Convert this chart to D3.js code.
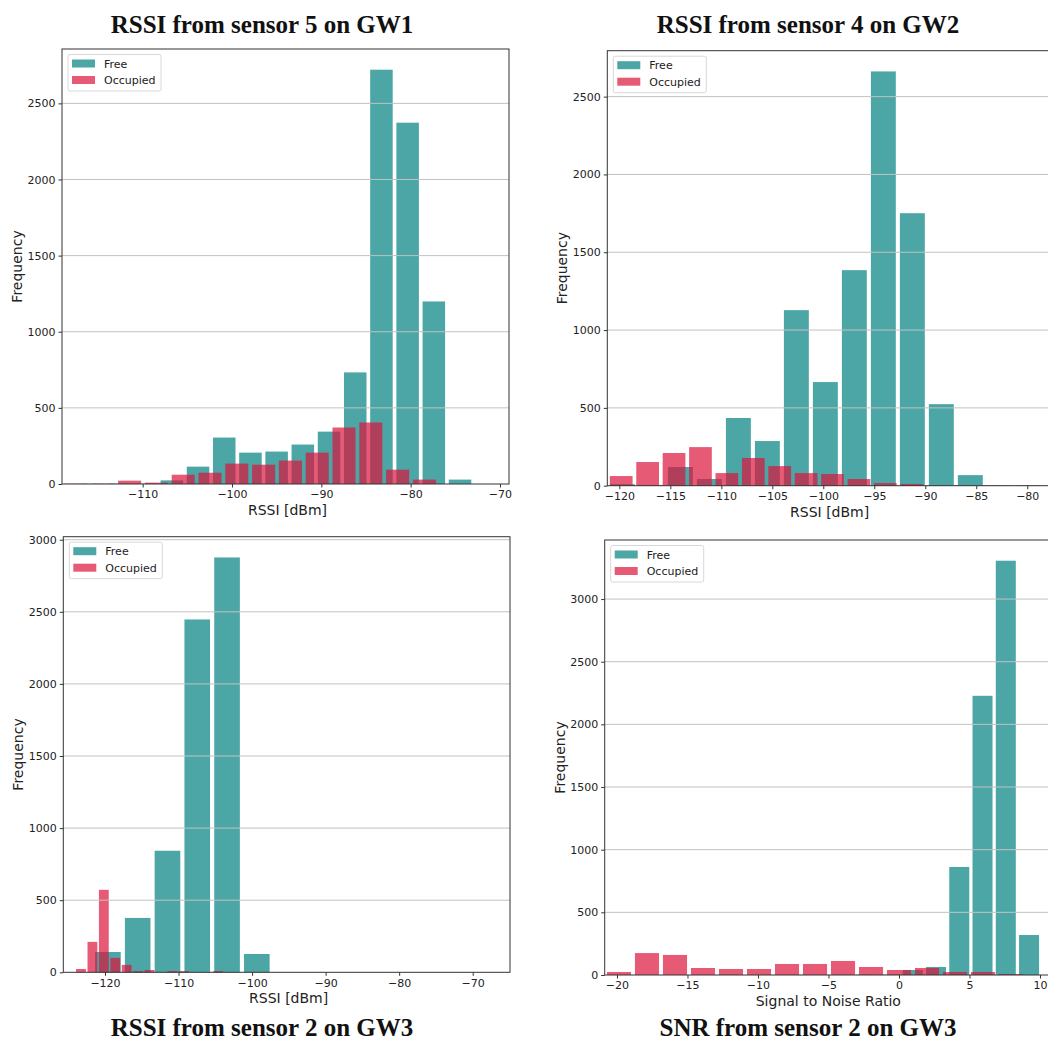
<!DOCTYPE html>
<html>
<head>
<meta charset="utf-8">
<script src="https://cdn.jsdelivr.net/npm/d3@7"></script>
<style>
  body { margin: 0; background: #fff; }
  svg { display: block; }
</style>
</head>
<body>
<svg id="chart" width="1048" height="1041"></svg>
<script>
// histogram bins: first bin edge, bin width, counts per bin
const gw1FreeLo = -117.0, gw1FreeStep = 2.933
const gw1Free = [1, 2, 2, 24, 114, 305, 206, 213, 259, 344, 733, 2721, 2373, 1199, 29]
const gw1OccLo = -118.96, gw1OccStep = 3.0
const gw1Occ = [2, 2, 22, 9, 61, 74, 134, 127, 154, 206, 371, 404, 94, 29, 0]

const gw2FreeLo = -121.12, gw2FreeStep = 2.843
const gw2Free = [10, 5, 120, 43, 435, 287, 1128, 666, 1385, 2662, 1751, 524, 68, 2, 3]
const gw2OccLo = -121.11, gw2OccStep = 2.59
const gw2Occ = [62, 152, 210, 248, 81, 178, 126, 81, 75, 43, 17, 11, 3, 2, 2]

const gw3FreeLo = -121.63, gw3FreeStep = 4.05
const gw3Free = [141, 377, 843, 2447, 2877, 127, 0, 0, 0, 0, 0, 0, 0]
const gw3OccLo = -124.04, gw3OccStep = 1.5525
const gw3Occ = [23, 211, 572, 100, 51, 9, 16, 0, 9, 9, 0, 0, 9, 0, 0]

const snrFreeLo = -14.7, snrFreeStep = 1.65
const snrFree = [0, 1, 0, 1, 2, 1, 2, 3, 3, 40, 64, 862, 2228, 3306, 319]
const snrOccLo = -20.85, snrOccStep = 1.986
const snrOcc = [24, 175, 160, 56, 48, 48, 88, 88, 112, 64, 40, 56, 24, 24, 8]

const titles = ['RSSI from sensor 5 on GW1', 'RSSI from sensor 4 on GW2',
                'RSSI from sensor 2 on GW3', 'SNR from sensor 2 on GW3']
const xLabels = ['RSSI [dBm]', 'RSSI [dBm]', 'RSSI [dBm]', 'Signal to Noise Ratio']
const xTicks = [[-110, -100, -90, -80, -70],
                [-120, -115, -110, -105, -100, -95, -90, -85, -80],
                [-120, -110, -100, -90, -80, -70],
                [-20, -15, -10, -5, 0, 5, 10]]
const seriesNames = ['Free', 'Occupied']

const colors = { Free: 'teal', Occupied: 'crimson' }
const rw = 0.86

const panels = [
  { box: [62, 49, 509, 484], xdom: [-119.03, -68.99],
    free: [gw1FreeLo, gw1FreeStep, gw1Free], occ: [gw1OccLo, gw1OccStep, gw1Occ],
    title: [262, 33] },
  { box: [607.3, 50.7, 1050, 485.7], xdom: [-121.18, -77.77],
    free: [gw2FreeLo, gw2FreeStep, gw2Free], occ: [gw2OccLo, gw2OccStep, gw2Occ],
    title: [808, 33] },
  { box: [63.3, 536.7, 510, 972.3], xdom: [-125.67, -64.93],
    free: [gw3FreeLo, gw3FreeStep, gw3Free], occ: [gw3OccLo, gw3OccStep, gw3Occ],
    title: [262, 1036] },
  { box: [604.7, 540, 1050, 975], xdom: [-20.87, 10.71],
    free: [snrFreeLo, snrFreeStep, snrFree], occ: [snrOccLo, snrOccStep, snrOcc],
    title: [808, 1036] }
]

const svg = d3.select('#chart')
const fmt = d => d < 0 ? '\u2212' + Math.abs(d) : '' + d

function toBins(lo, step, counts) {
  return counts.map((c, i) => ({ x0: lo + i * step, x1: lo + (i + 1) * step, n: c }))
}

panels.forEach((p, k) => {
  const [l, t, r, b] = p.box
  const freeBins = toBins(...p.free)
  const occBins = toBins(...p.occ)
  const ymax = d3.max(freeBins.concat(occBins), d => d.n) * 1.05

  const x = d3.scaleLinear().domain(p.xdom).range([l, r])
  const y = d3.scaleLinear().domain([0, ymax]).range([b, t])

  const g = svg.append('g')

  ;[['Free', freeBins], ['Occupied', occBins]].forEach(([name, bins]) => {
    g.append('g').selectAll('rect')
      .data(bins.filter(d => d.n > 0))
      .enter().append('rect')
      .attr('x', d => x(d.x0 + (d.x1 - d.x0) * (1 - rw) / 2))
      .attr('width', d => x(d.x0 + (d.x1 - d.x0) * (1 + rw) / 2) - x(d.x0 + (d.x1 - d.x0) * (1 - rw) / 2))
      .attr('y', d => y(d.n))
      .attr('height', d => y(0) - y(d.n))
      .attr('fill', colors[name])
      .attr('fill-opacity', 0.7)
  })

  // grid lines drawn over the bars, as in the source
  const yt = d3.range(500, ymax, 500)
  g.append('g').selectAll('line')
    .data(yt)
    .enter().append('line')
    .attr('x1', l).attr('x2', r)
    .attr('y1', d => y(d)).attr('y2', d => y(d))
    .attr('stroke', '#c2c2c2').attr('stroke-width', 1)

  // spines
  g.append('rect')
    .attr('x', l).attr('y', t).attr('width', r - l).attr('height', b - t)
    .attr('fill', 'none').attr('stroke', '#333').attr('stroke-width', 1)

  const xa = g.append('g').attr('transform', `translate(0,${b})`)
    .call(d3.axisBottom(x).tickValues(xTicks[k]).tickFormat(fmt).tickSize(3.5).tickPadding(3))
  const ya = g.append('g').attr('transform', `translate(${l},0)`)
    .call(d3.axisLeft(y).tickValues(d3.range(0, ymax, 500)).tickFormat(fmt).tickSize(3.5).tickPadding(3))
  ;[xa, ya].forEach(a => {
    a.select('.domain').remove()
    a.selectAll('line').attr('stroke', '#333')
    a.selectAll('text').attr('font-family', 'DejaVu Sans').attr('font-size', 11).attr('fill', '#222')
  })

  g.append('text')
    .attr('x', (l + Math.min(r, 1048)) / 2 + 2).attr('y', b + 31)
    .attr('text-anchor', 'middle')
    .attr('font-family', 'DejaVu Sans').attr('font-size', 14).attr('fill', '#222')
    .text(xLabels[k])

  g.append('text')
    .attr('transform', `translate(${l - 40},${(t + b) / 2}) rotate(-90)`)
    .attr('text-anchor', 'middle')
    .attr('font-family', 'DejaVu Sans').attr('font-size', 14).attr('fill', '#222')
    .text('Frequency')

  // legend
  const lg = g.append('g').attr('transform', `translate(${l + 6},${t + 5.5})`)
  lg.append('rect')
    .attr('width', 93).attr('height', 36.5).attr('rx', 2)
    .attr('fill', '#fff').attr('fill-opacity', 0.8)
    .attr('stroke', '#d8d8d8').attr('stroke-width', 1)
  seriesNames.forEach((s, i) => {
    lg.append('rect')
      .attr('x', 4).attr('y', 5 + i * 16.5).attr('width', 23).attr('height', 8)
      .attr('fill', colors[s]).attr('fill-opacity', 0.7)
    lg.append('text')
      .attr('x', 36).attr('y', 13 + i * 16.5)
      .attr('font-family', 'DejaVu Sans').attr('font-size', 11).attr('fill', '#222')
      .text(s)
  })

  svg.append('text')
    .attr('x', p.title[0]).attr('y', p.title[1])
    .attr('text-anchor', 'middle')
    .attr('font-family', 'Liberation Serif').attr('font-weight', 'bold')
    .attr('font-size', 25).attr('fill', '#111')
    .text(titles[k])
})
</script>
</body>
</html>
